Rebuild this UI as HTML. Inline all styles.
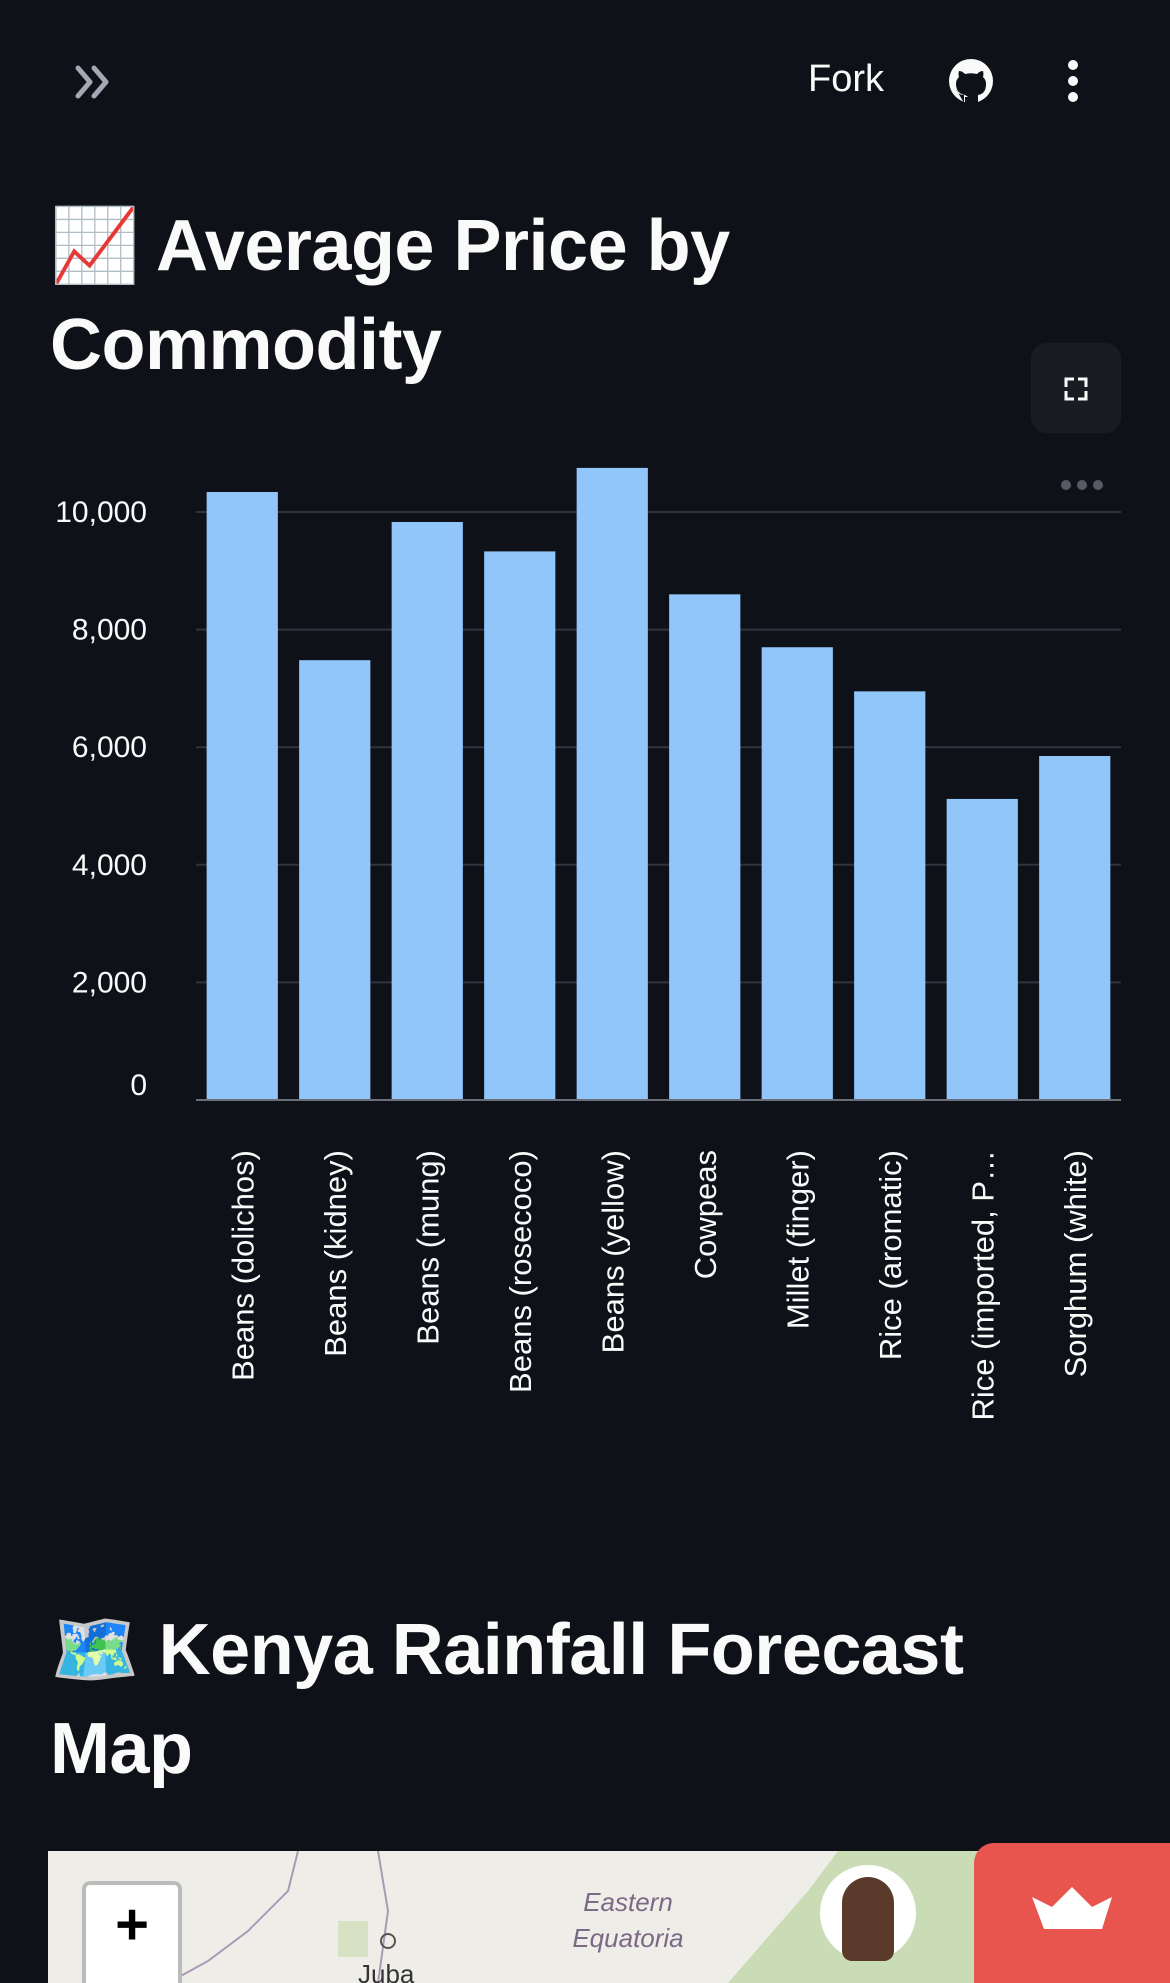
<!DOCTYPE html>
<html><head><meta charset="utf-8">
<style>
html,body{margin:0;padding:0;background:#0e1117;width:1170px;height:1983px;overflow:hidden;font-family:"Liberation Sans","DejaVu Sans",sans-serif;color:#fafafa;position:relative}
.abs{position:absolute}
h1{margin:0;font-weight:700;font-size:72px;line-height:99px;letter-spacing:-0.5px;position:absolute;left:50px;color:#fafafa}
</style></head><body>
<div class="abs" style="left:72px;top:60px;width:46px;height:44px">
<svg width="46" height="44" viewBox="0 0 46 44"><path d="M6 8 L18 22 L6 36 M22 8 L34 22 L22 36" fill="none" stroke="#a3a8b4" stroke-width="5" stroke-linecap="round" stroke-linejoin="round"/></svg></div>
<div class="abs" style="left:808px;top:58px;font-size:38px;color:#fafafa">Fork</div>
<div class="abs" style="left:947px;top:57px;width:48px;height:48px">
<svg width="48" height="48" viewBox="0 0 48 48"><circle cx="24" cy="24" r="22" fill="#fafafa"/><path d="M17 46 L17 38 C12 38 10 35 9 32 M31 46 L31 38 C37 37 39 33 39 27 C39 24 38 22 36 20 C37 17 36 14 36 14 C33 14 31 16 30 17 C26 16 22 16 18 17 C17 16 15 14 12 14 C12 14 11 17 12 20 C10 22 9 24 9 27 C9 33 12 37 18 38" fill="#0e1117"/><path d="M18 40 L18 46 L30 46 L30 40 Z" fill="#0e1117"/></svg></div>
<div class="abs" style="left:1066px;top:58px;width:14px;height:46px">
<svg width="14" height="46"><circle cx="7" cy="7" r="5" fill="#fafafa"/><circle cx="7" cy="23" r="5" fill="#fafafa"/><circle cx="7" cy="39" r="5" fill="#fafafa"/></svg></div>

<h1 style="top:197px">📈 Average Price by<br>Commodity</h1>

<div class="abs" style="left:1031px;top:343px;width:90px;height:90px;background:#1a1c24;border-radius:16px">
<svg width="90" height="90"><path d="M35 44 V36 H43 M47 36 H55 V44 M55 48 V56 H47 M43 56 H35 V48" fill="none" stroke="#fafafa" stroke-width="3"/></svg></div>
<div class="abs" style="left:1058px;top:477px;width:48px;height:16px">
<svg width="48" height="16"><circle cx="8" cy="8" r="5" fill="#555a66"/><circle cx="24" cy="8" r="5" fill="#555a66"/><circle cx="40" cy="8" r="5" fill="#555a66"/></svg></div>

<svg id="chart" class="abs" style="left:0;top:440px" width="1170" height="1020"></svg>

<h1 style="top:1601px">🗺️ Kenya Rainfall Forecast<br>Map</h1>

<div class="abs" style="left:48px;top:1851px;width:1122px;height:132px;background:#efede8;overflow:hidden">
<svg width="1122" height="132"><path d="M250 0 L240 40 L200 80 L160 110 L120 132" fill="none" stroke="#a99ab8" stroke-width="2"/><path d="M330 0 L340 60 L330 132" fill="none" stroke="#a99ab8" stroke-width="2"/><path d="M680 132 L760 40 L790 0 L1122 0 L1122 132 Z" fill="#c9dcb5"/><rect x="290" y="70" width="30" height="36" fill="#d6e2c3"/><circle cx="340" cy="90" r="7" fill="none" stroke="#555" stroke-width="2"/>
<text x="580" y="60" font-size="26" font-style="italic" fill="#7a6a86" text-anchor="middle">Eastern</text><text x="580" y="96" font-size="26" font-style="italic" fill="#7a6a86" text-anchor="middle">Equatoria</text><text x="310" y="132" font-size="26" fill="#333">Juba</text></svg>
<div class="abs" style="left:34px;top:30px;width:92px;height:110px;background:#fff;border:4px solid #bbb;border-radius:8px;font-size:58px;font-weight:700;color:#000;text-align:center;line-height:80px">+</div>
<div class="abs" style="left:772px;top:14px;width:96px;height:96px;border-radius:50%;background:#fff"><div style="position:absolute;left:22px;top:12px;width:52px;height:84px;border-radius:26px 26px 10px 10px;background:#5a3a2a"></div></div>
</div>
<div class="abs" style="left:974px;top:1843px;width:196px;height:140px;background:#e8554e;border-radius:20px 0 0 0">
<svg width="196" height="140"><path d="M58 54 L78 64 L98 44 L118 64 L138 54 L128 86 L70 86 Z" fill="#fff"/></svg></div>

<script>
const categories=["Beans (dolichos)","Beans (kidney)","Beans (mung)","Beans (rosecoco)","Beans (yellow)","Cowpeas","Millet (finger)","Rice (aromatic)","Rice (imported, P…","Sorghum (white)"];
const prices=[10340,7480,9830,9330,10750,8600,7700,6950,5120,5850];
const yTicks=[0,2000,4000,6000,8000,10000];
const yTickLabels=["0","2,000","4,000","6,000","8,000","10,000"];
const NS="http://www.w3.org/2000/svg";
const svg=document.getElementById('chart');
const L=196,R=1121,Y0=660,PX=117.6/2000;
const y=v=>Y0-v*PX;
const band=(R-L)/categories.length,pad=0.23*band;
const x=i=>L+i*band+pad/2;
function mk(t,a){const e=document.createElementNS(NS,t);for(const k in a)e.setAttribute(k,a[k]);svg.appendChild(e);return e;}
yTicks.forEach((t,i)=>{
  if(t>0){const g=mk('line',{x1:L,x2:R,y1:y(t),y2:y(t),stroke:'#31333f','stroke-width':2});
  
  }
  const tx=mk('text',{x:147,y:(t===0?y(t)-15:y(t))+10,'text-anchor':'end','font-size':30,fill:'#fafafa'});
  tx.textContent=yTickLabels[i];
  
  
});
prices.forEach((v,i)=>{
  const b=mk('rect',{x:x(i),y:y(v),width:band-pad,height:Y0-y(v),fill:'#90c6f9'});
  
  
});
const ax=mk('line',{x1:L,x2:R,y1:Y0,y2:Y0,stroke:'#6b6f7a','stroke-width':2});


categories.forEach((c,i)=>{
  const cx=x(i)+(band-pad)/2+11;
  const t=mk('text',{x:0,y:0,'text-anchor':'end','font-size':31,fill:'#fafafa',transform:`translate(${cx},${Y0+50}) rotate(-90)`});
  t.textContent=c;
  
  
});
</script>
</body></html>
